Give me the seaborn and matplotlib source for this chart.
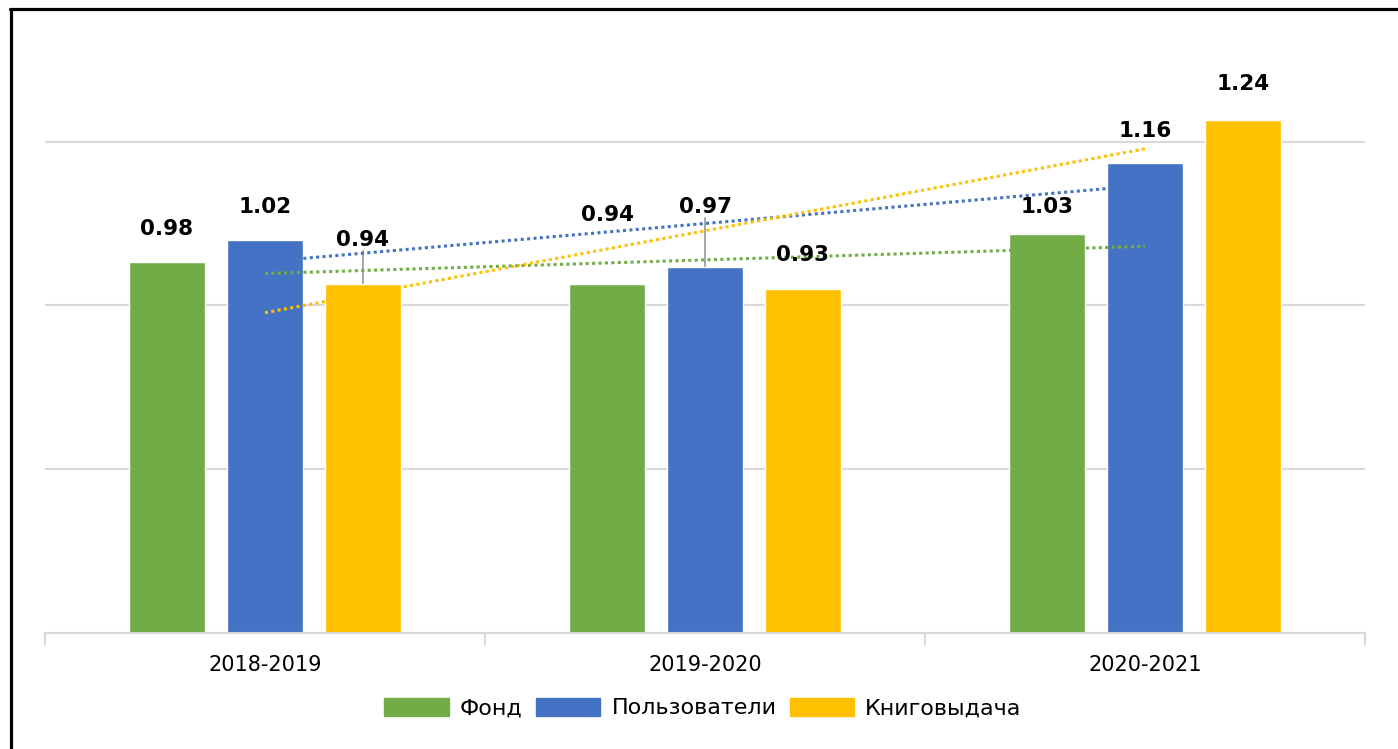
import numpy as np
import pandas as pd
import matplotlib
matplotlib.use("Agg")
import matplotlib.pyplot as plt
from matplotlib.lines import Line2D
import seaborn as sns

# ---- data ----
periods = ["2018-2019", "2019-2020", "2020-2021"]
series = ["Фонд", "Пользователи", "Книговыдача"]
fond = [0.98, 0.94, 1.03]
users = [1.02, 0.97, 1.16]
books = [0.94, 0.93, 1.24]
colors = ["#70AD47", "#4472C4", "#FFC000"]

# label offsets above bar tops (pixels), per series per period; leader-line flags
label_off_px = [[33, 69, 27], [33, 60, 32], [44, 34, 36]]
leader = [[False, False, False], [False, True, False], [True, False, False]]

values = [fond, users, books]
df = pd.DataFrame({
    "period": np.repeat([periods], 3, axis=0).ravel(),
    "series": np.repeat(series, 3),
    "value": np.concatenate(values),
})

sns.set_theme(style="white")
plt.rcParams["font.family"] = ["DejaVu Sans"]
plt.rcParams["text.color"] = "black"

W, H = 1398, 749
fig = plt.figure(figsize=(W / 100, H / 100), dpi=100)
ax_left, ax_right, ax_bottom, ax_top = 45, 1365, 633, 40
ax = fig.add_axes([ax_left / W, (H - ax_bottom) / H, (ax_right - ax_left) / W,
                   (ax_bottom - ax_top) / H])

ymin = 0.3
px_per_unit = 546.0
ymax = ymin + (ax_bottom - ax_top) / px_per_unit

# gridlines
for g in [0.6, 0.9, 1.2]:
    ax.axhline(g, color="#d9d9d9", lw=1.5, zorder=0)

sns.barplot(data=df, x="period", y="value", hue="series", order=periods,
            hue_order=series, palette=colors, width=0.668, gap=0.22,
            saturation=1, ax=ax, legend=False, zorder=2)

ax.set_ylim(ymin, ymax)
ax.set_xlim(-0.5, 2.5)

# trendlines (linear regression per series)
xs = np.arange(len(periods))
for vals, c in zip(values, colors):
    k, b = np.polyfit(xs, vals, 1)
    ax.plot([0, 2], [b, 2 * k + b], color=c, lw=2.2, linestyle=(0, (1.0, 1.1)),
            zorder=3, dash_capstyle="butt")

# data labels
for si, cont in enumerate(ax.containers):
    for pi, bar in enumerate(cont):
        x = bar.get_x() + bar.get_width() / 2
        top = bar.get_height()
        off = label_off_px[si][pi]
        ax.annotate(f"{values[si][pi]:.2f}", xy=(x, top),
                    xytext=(0, off * 0.72), textcoords="offset points",
                    ha="center", va="center", fontsize=15.5, fontweight="bold",
                    color="black", zorder=5)
        if leader[si][pi]:
            y_end = top + (off - 11) / px_per_unit
            ax.plot([x, x], [top, y_end], color="#a6a6a6", lw=1.4, zorder=1.5)

# axes styling
for s in ["left", "right", "top"]:
    ax.spines[s].set_visible(False)
ax.spines["bottom"].set_color("#d9d9d9")
ax.spines["bottom"].set_linewidth(1.5)
ax.set_yticks([])
ax.set_xlabel("")
ax.set_ylabel("")
ax.set_xticks(xs)
ax.set_xticklabels(periods)
ax.set_xticks([-0.5, 0.5, 1.5, 2.5], minor=True)
ax.tick_params(axis="x", which="major", bottom=False, length=0, pad=16,
               labelsize=15, labelcolor="black")
ax.tick_params(axis="x", which="minor", bottom=True, length=8.6, width=1.5,
               color="#d9d9d9", direction="out")

# legend
handles = [plt.Rectangle((0, 0), 1, 1, color=c) for c in colors]
leg = fig.legend(handles, series, loc="center", bbox_to_anchor=(703 / W, 1 - 708 / H),
                 ncol=3, frameon=False, fontsize=16, handlelength=2.9,
                 handleheight=0.9, handletextpad=0.5, columnspacing=0.6)
for t in leg.get_texts():
    t.set_color("black")

# outer frame (left and top edges)
fig.add_artist(Line2D([10.5 / W, 10.5 / W], [0, 1 - 8.5 / H], transform=fig.transFigure,
                      color="black", lw=2.3))
fig.add_artist(Line2D([9.5 / W, 1], [1 - 8.5 / H, 1 - 8.5 / H], transform=fig.transFigure,
                      color="black", lw=2.3))

fig.savefig("out.png", dpi=100, facecolor="white")
